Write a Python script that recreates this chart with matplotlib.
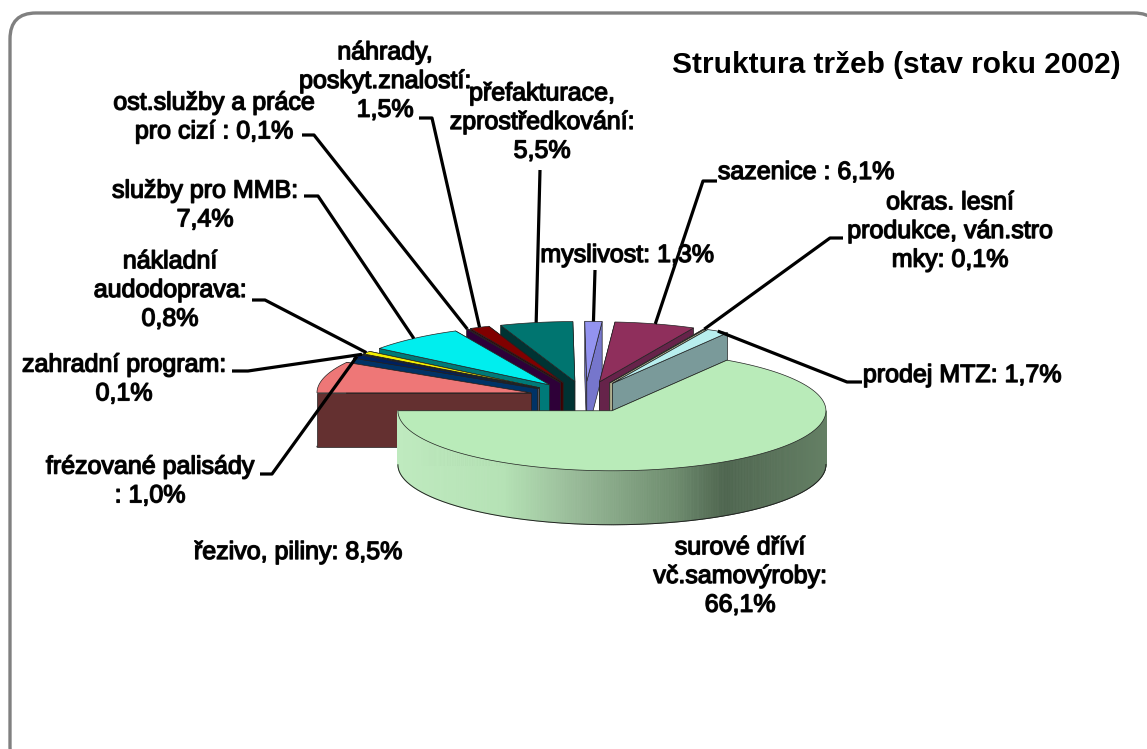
import numpy as np
import matplotlib
matplotlib.use('Agg')
import matplotlib.pyplot as plt
import matplotlib.patheffects as pe
from matplotlib.colors import LinearSegmentedColormap
from matplotlib.patches import FancyBboxPatch, Polygon

# ----------------------- #
# Data
# ----------------------- #
categories = ['řezivo, piliny', 'frézované palisády', 'zahradní program', 'nákladní audodoprava',
              'služby pro MMB', 'ost.služby a práce pro cizí', 'náhrady, poskyt.znalostí',
              'přefakturace, zprostředkování', 'myslivost', 'sazenice',
              'okras. lesní produkce, ván.stromky', 'prodej MTZ', 'surové dříví vč.samovýroby']
values = [8.5, 1.0, 0.1, 0.8, 7.4, 0.1, 1.5, 5.5, 1.3, 6.1, 0.1, 1.7, 66.1]
top_colors = ['#ee7777', '#00205f', '#ccccf5', '#f5f000', '#00eeee', '#660066', '#800000',
              '#007570', '#9393f0', '#8f2f5c', '#f5f5c8', '#b8eeee', '#b9ebb9']
side_colors = ['#643030', '#003366', '#c0c0ee', '#666600', '#007a78', '#2e0038', '#400000',
               '#003333', '#7676cc', '#66234a', '#b0b090', '#7a9a9a', '#5a745a']

label_texts = ['řezivo, piliny: 8,5%', 'frézované palisády\n: 1,0%', 'zahradní program:\n0,1%',
               'nákladní\naudodoprava:\n0,8%', 'služby pro MMB:\n7,4%',
               'ost.služby a práce\npro cizí : 0,1%', 'náhrady,\nposkyt.znalostí:\n1,5%',
               'přefakturace,\nzprostředkování:\n5,5%', 'myslivost: 1,3%', 'sazenice : 6,1%',
               'okras. lesní\nprodukce, ván.stro\nmky: 0,1%', 'prodej MTZ: 1,7%',
               'surové dříví\nvč.samovýroby:\n66,1%']
label_x = [298, 150, 124, 170, 205, 214, 385, 542, 627, 806, 950, 962, 740]
label_y = [552, 481, 379, 290, 205, 117, 81, 122, 255, 172, 231, 375, 576]

# leader lines: label end and elbow, the last point comes from the slice
leader_pts = {1: [(260, 474), (272, 474)], 2: [(232, 371), (248, 371)], 3: [(252, 300), (265, 300)],
              4: [(304, 196), (318, 196)], 5: [(302, 135), (314, 135)], 6: [(419, 118), (432, 118)],
              7: [(540, 170), (540, 170)], 8: [(595, 270), (595, 270)], 9: [(717, 181), (703, 181)],
              10: [(843, 238), (830, 238)], 11: [(862, 382), (847, 382)]}

# ----------------------- #
# Pie geometry (pixels)
# ----------------------- #
cx, cy = 585, 397
rx, ry = 214, 60
explode = 56
depth = 54

wall_cmap = LinearSegmentedColormap.from_list('wall', [(0.0, '#bfeabf'), (0.25, '#b5e2b5'), (0.42, '#98ba98'),
                                                       (0.65, '#6f8d6f'), (0.77, '#4f6650'), (1.0, '#647f64')])

fig = plt.figure(figsize=(11.47, 7.49), dpi=100)
ax = fig.add_axes([0, 0, 1, 1])
ax.set_xlim(0, 1147)
ax.set_ylim(749, 0)
ax.axis('off')

ax.add_patch(FancyBboxPatch((10, 13), 1150, 760, boxstyle='round,pad=0,rounding_size=26',
                            fc='white', ec='#808080', lw=2.4))

# angles run clockwise from 9 o'clock
total = sum(values)
sweep = np.array(values) / total * 360
starts = 180 - np.concatenate([[0], np.cumsum(sweep)[:-1]])
ends = starts - sweep
mids = (starts + ends) / 2

def apex(i):
    m = np.radians(mids[i])
    return cx + explode * np.cos(m), cy - explode * np.sin(m) * ry / rx

def rim(i, t):
    ax_, ay_ = apex(i)
    t = np.radians(t)
    return ax_ + rx * np.cos(t), ay_ - ry * np.sin(t)

anchors = {}
# back slices first, the draw order is kept through zorder
draw_order = sorted(range(len(values)), key=lambda k: -np.sin(np.radians(mids[k])))
for n, i in enumerate(draw_order):
    z = 2 + 0.01 * n
    a = apex(i)
    # radial walls, the far one first
    for t in sorted([starts[i], ends[i]], key=lambda v: rim(i, v)[1]):
        p = rim(i, t)
        ax.add_patch(Polygon([a, p, (p[0], p[1] + depth), (a[0], a[1] + depth)], closed=True,
                             fc=side_colors[i], ec='#222222', lw=0.5, zorder=z))
    ts = np.linspace(starts[i], ends[i], max(int(sweep[i] * 2), 3))
    # outer wall, only the front half shows
    x_lo, x_hi = cx - rx + 25, cx + rx + 25
    for t0, t1 in zip(ts[:-1], ts[1:]):
        if np.sin(np.radians((t0 + t1) / 2)) < 0:
            p0, p1 = rim(i, t0), rim(i, t1)
            col = wall_cmap((p0[0] - x_lo) / (x_hi - x_lo))
            ax.add_patch(Polygon([p0, p1, (p1[0], p1[1] + depth), (p0[0], p0[1] + depth)], closed=True,
                                 fc=col, ec=col, lw=0.6, zorder=z))
    outer = [rim(i, t) for t in ts]
    ax.add_patch(Polygon([a] + outer, closed=True, fc=top_colors[i], ec='#222222', lw=0.5, zorder=z))
    low = [rim(i, t) for t in ts if np.sin(np.radians(t)) <= 0.01]
    if len(low) > 1:
        ax.plot([p[0] for p in low], [p[1] + depth for p in low], color='#222222', lw=0.7, zorder=z)
    anchors[i] = rim(i, mids[i])

# ----------------------- #
# Leader lines and text
# ----------------------- #
for i, pts in leader_pts.items():
    xs = [p[0] for p in pts] + [anchors[i][0]]
    ys = [p[1] for p in pts] + [anchors[i][1]]
    ax.plot(xs, ys, color='black', lw=2.3, zorder=5, solid_capstyle='butt', solid_joinstyle='round')

halo = [pe.withStroke(linewidth=1.0, foreground='#111111')]
for txt, x, y in zip(label_texts, label_x, label_y):
    ax.text(x, y, txt, ha='center', va='center', ma='center', fontsize=18, family='Liberation Sans',
            color='black', linespacing=1.25, zorder=6, path_effects=halo)

ax.text(896, 65, 'Struktura tržeb (stav roku 2002)', ha='center', va='center', fontsize=21.5,
        family='Liberation Sans', weight='bold', color='black', zorder=6)

fig.savefig('out.png', dpi=100)
